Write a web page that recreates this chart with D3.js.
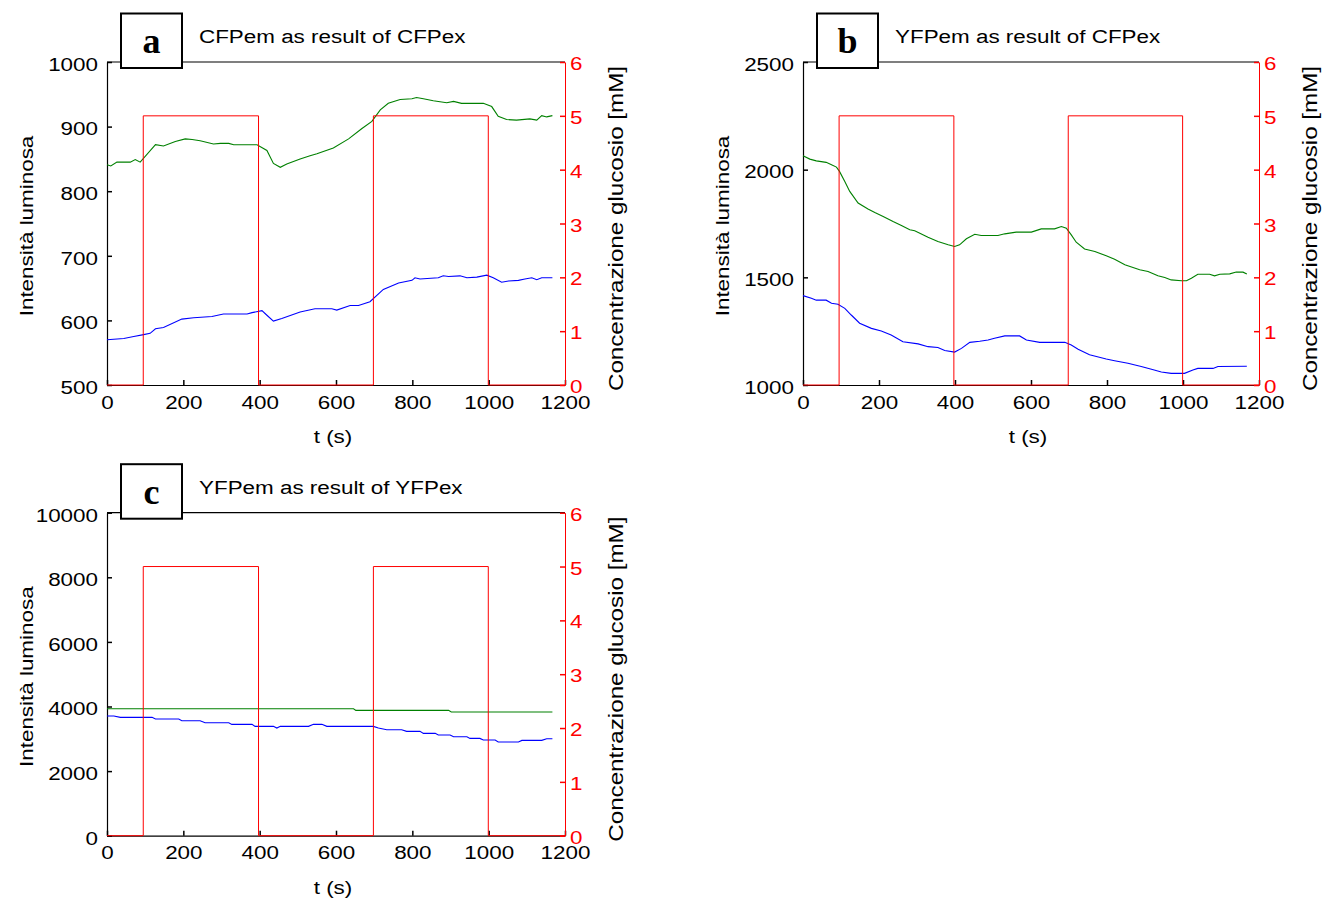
<!DOCTYPE html>
<html>
<head>
<meta charset="utf-8">
<script src="https://cdn.jsdelivr.net/npm/d3@7"></script>
<style>
  body { margin: 0; background: #fff; }
  svg text { font-family: "Liberation Sans", Arial, sans-serif; }
</style>
</head>
<body>
<svg id="fig" width="1339" height="899"></svg>
<script>
// ---- tick values ----
const timeTicks = [0, 200, 400, 600, 800, 1000, 1200];
const glucoseTicks = [0, 1, 2, 3, 4, 5, 6];
const intensityTicksA = [500, 600, 700, 800, 900, 1000];
const intensityTicksB = [1000, 1500, 2000, 2500];
const intensityTicksC = [0, 2000, 4000, 6000, 8000, 10000];

// ---- glucose pulses (mM) ----
const pulseTime    = [0, 95, 95, 397, 397, 698, 698, 999, 999, 1200];
const pulseGlucose = [0, 0,  5,  5,   0,   0,   5,   5,   0,   0];

// ---- panel a: CFPem as result of CFPex, [t (s), intensity] ----
const greenA = [[0,841],[10,839],[26,845],[61,845],[74,849],[87,845],[127,872],[148,870],[179,877],[205,881],
  [223,880],[244,878],[279,873],[297,874],[319,874],[332,872],[393,872],[419,863],[436,843],[454,837],
  [471,842],[506,850],[532,855],[550,858],[593,867],[633,881],[668,897],[694,908],[716,926],[737,936],
  [768,942],[799,943],[811,945],[829,943],[855,940],[890,937],[908,939],[929,936],[986,936],[1008,931],
  [1025,916],[1047,911],[1073,910],[1108,912],[1126,910],[1139,917],[1152,915],[1167,917]];
const blueA = [[0,570],[44,572],[70,575],[96,578],[113,580],[127,587],[148,589],[196,602],[227,604],[275,606],
  [305,610],[367,610],[380,612],[406,615],[419,608],[436,599],[458,603],[506,613],[545,618],[589,618],
  [602,616],[637,623],[659,623],[689,629],[724,648],[764,658],[799,662],[807,666],[820,664],[868,666],
  [881,669],[895,668],[925,669],[943,666],[969,667],[995,670],[1012,666],[1034,659],[1052,661],[1078,662],
  [1095,664],[1113,666],[1126,663],[1139,666],[1167,666]];

// ---- panel b: YFPem as result of CFPex ----
const greenB = [[0,2065],[18,2049],[35,2041],[61,2034],[75,2023],[88,2012],[96,1992],[110,1945],[123,1899],[145,1845],
  [171,1817],[189,1801],[211,1783],[237,1759],[259,1741],[281,1721],[294,1716],[329,1686],[355,1666],[382,1651],
  [399,1643],[412,1651],[430,1679],[452,1700],[469,1694],[513,1694],[531,1702],[561,1710],[601,1710],[627,1725],
  [662,1725],[680,1736],[693,1728],[706,1697],[719,1663],[741,1632],[768,1620],[798,1600],[820,1584],[847,1558],
  [886,1535],[908,1527],[934,1507],[952,1499],[969,1488],[996,1484],[1009,1484],[1022,1496],[1039,1514],[1070,1514],
  [1083,1507],[1097,1514],[1123,1516],[1140,1525],[1158,1524],[1168,1516]];
const blueB = [[0,1415],[22,1403],[35,1394],[61,1394],[75,1380],[92,1375],[110,1356],[127,1325],[149,1287],[180,1263],
  [206,1251],[232,1232],[263,1201],[303,1191],[329,1178],[355,1174],[373,1160],[399,1153],[417,1170],[439,1198],
  [465,1203],[487,1209],[504,1217],[531,1228],[570,1228],[588,1209],[623,1198],[689,1198],[706,1186],[724,1166],
  [754,1140],[798,1121],[820,1113],[855,1101],[890,1086],[917,1073],[943,1060],[969,1054],[1004,1054],[1026,1070],
  [1039,1077],[1079,1077],[1092,1086],[1168,1087]];

// ---- panel c: YFPem as result of YFPex ----
const greenC = [[0,3932],[646,3932],[652,3880],[895,3880],[902,3829],[1167,3829]];
const blueC = [[0,3705],[18,3705],[35,3664],[118,3664],[127,3612],[188,3612],[196,3561],[244,3561],[257,3498],[319,3498],
  [327,3447],[380,3447],[388,3385],[436,3385],[445,3333],[454,3385],[528,3385],[541,3447],[563,3447],[576,3385],
  [698,3385],[711,3333],[733,3282],[772,3282],[785,3230],[820,3230],[829,3168],[860,3168],[868,3117],[899,3117],
  [908,3065],[943,3065],[951,3013],[977,3013],[986,2962],[1017,2962],[1025,2900],[1078,2900],[1087,2951],[1139,2951],
  [1152,3003],[1167,3003]];

// ---- panel options ----
const panels = [
  { letter: "a", title: "CFPem as result of CFPex", left: 107, right: 565, top: 62, bottom: 385,
    yDomain: [500, 1000], yTicks: intensityTicksA, green: greenA, blue: blueA },
  { letter: "b", title: "YFPem as result of CFPex", left: 803, right: 1259, top: 62, bottom: 385,
    yDomain: [1000, 2500], yTicks: intensityTicksB, green: greenB, blue: blueB },
  { letter: "c", title: "YFPem as result of YFPex", left: 107, right: 565, top: 512.7, bottom: 835.7,
    yDomain: [0, 10000], yTicks: intensityTicksC, green: greenC, blue: blueC }
];

const SX = 1.18;      // horizontal stretch of the lettering
const FS = 19;        // tick / title font size
const svg = d3.select("#fig");

function styleLabels(sel, dx, dy, anchor, color) {
  sel.selectAll(".tick text")
    .attr("x", 0).attr("y", 0).attr("dy", null)
    .attr("text-anchor", anchor)
    .attr("transform", `translate(${dx},${dy}) scale(${SX},1)`)
    .style("font-size", FS + "px")
    .style("font-family", '"Liberation Sans", Arial, sans-serif')
    .attr("fill", color);
}

panels.forEach(p => {
  const g = svg.append("g");
  const x = d3.scaleLinear().domain([0, 1200]).range([p.left, p.right]);
  const yL = d3.scaleLinear().domain(p.yDomain).range([p.bottom, p.top]);
  const yR = d3.scaleLinear().domain([0, 6]).range([p.bottom, p.top]);

  // top frame line
  g.append("line").attr("x1", p.left).attr("x2", p.right)
    .attr("y1", p.top).attr("y2", p.top).attr("stroke", "#000").attr("stroke-width", 1.2);

  // left intensity axis
  const ax = g.append("g").attr("transform", `translate(${p.left},0)`)
    .call(d3.axisLeft(yL).tickValues(p.yTicks).tickSizeInner(-5).tickSizeOuter(0).tickFormat(d3.format("d")));
  ax.select(".domain").attr("stroke", "#000").attr("stroke-width", 1.2);
  ax.selectAll(".tick line").attr("stroke", "#000").attr("stroke-width", 1.5);
  styleLabels(ax, -9, 8.3, "end", "#000");

  // bottom time axis
  const bx = g.append("g").attr("transform", `translate(0,${p.bottom})`)
    .call(d3.axisBottom(x).tickValues(timeTicks).tickSizeInner(-5).tickSizeOuter(0).tickFormat(d3.format("d")));
  bx.select(".domain").attr("stroke", "#000").attr("stroke-width", 1.2);
  bx.selectAll(".tick line").attr("stroke", "#000").attr("stroke-width", 1.5);
  styleLabels(bx, 0, 23.5, "middle", "#000");

  // right glucose axis
  const rx = g.append("g").attr("transform", `translate(${p.right},0)`)
    .call(d3.axisRight(yR).tickValues(glucoseTicks).tickSizeInner(-5).tickSizeOuter(0).tickFormat(d3.format("d")));
  rx.select(".domain").attr("stroke", "#ff0000").attr("stroke-width", 1);
  rx.selectAll(".tick line").attr("stroke", "#ff0000").attr("stroke-width", 1.5);
  styleLabels(rx, 5, 7.5, "start", "#ff0000");

  // intensity traces
  const line = d3.line().x(d => x(d[0])).y(d => yL(d[1]));
  g.append("path").datum(p.blue).attr("d", line)
    .attr("fill", "none").attr("stroke", "#0000ff").attr("stroke-width", 1.1);
  g.append("path").datum(p.green).attr("d", line)
    .attr("fill", "none").attr("stroke", "#008000").attr("stroke-width", 1.1);

  // glucose pulses
  const pulse = d3.line().x(i => x(pulseTime[i])).y(i => yR(pulseGlucose[i]));
  g.append("path").datum(d3.range(pulseTime.length)).attr("d", pulse)
    .attr("fill", "none").attr("stroke", "#ff0000").attr("stroke-width", 1);

  // axis titles
  g.append("text")
    .attr("transform", `translate(${p.left - 74},${(p.top + p.bottom) / 2 + 2.5}) rotate(-90) scale(${SX},1)`)
    .attr("text-anchor", "middle").style("font-size", "19px").attr("fill", "#000")
    .text("Intensità luminosa");
  g.append("text")
    .attr("transform", `translate(${p.right + 57.7},${(p.top + p.bottom) / 2 + 5}) rotate(-90) scale(${SX},1)`)
    .attr("text-anchor", "middle").style("font-size", "20.5px").attr("fill", "#000")
    .text("Concentrazione glucosio [mM]");
  g.append("text")
    .attr("transform", `translate(${(p.left + p.right) / 2 - 3},${p.bottom + 58}) scale(${SX},1)`)
    .attr("text-anchor", "middle").style("font-size", "19px").attr("fill", "#000")
    .text("t (s)");

  // panel title
  g.append("text")
    .attr("transform", `translate(${p.left + 92},${p.top - 18.7}) scale(${SX},1)`)
    .style("font-size", FS + "px").attr("fill", "#000")
    .text(p.title);

  // panel letter box
  g.append("rect").attr("x", p.left + 14).attr("y", p.top - 48.5)
    .attr("width", 61).attr("height", 54.5)
    .attr("fill", "#fff").attr("stroke", "#000").attr("stroke-width", 2);
  g.append("text").attr("x", p.left + 44.5).attr("y", p.top - 9)
    .attr("text-anchor", "middle")
    .style("font-family", '"Liberation Serif", "Times New Roman", serif')
    .style("font-weight", "bold").style("font-size", "36px")
    .text(p.letter);
});
</script>
</body>
</html>
